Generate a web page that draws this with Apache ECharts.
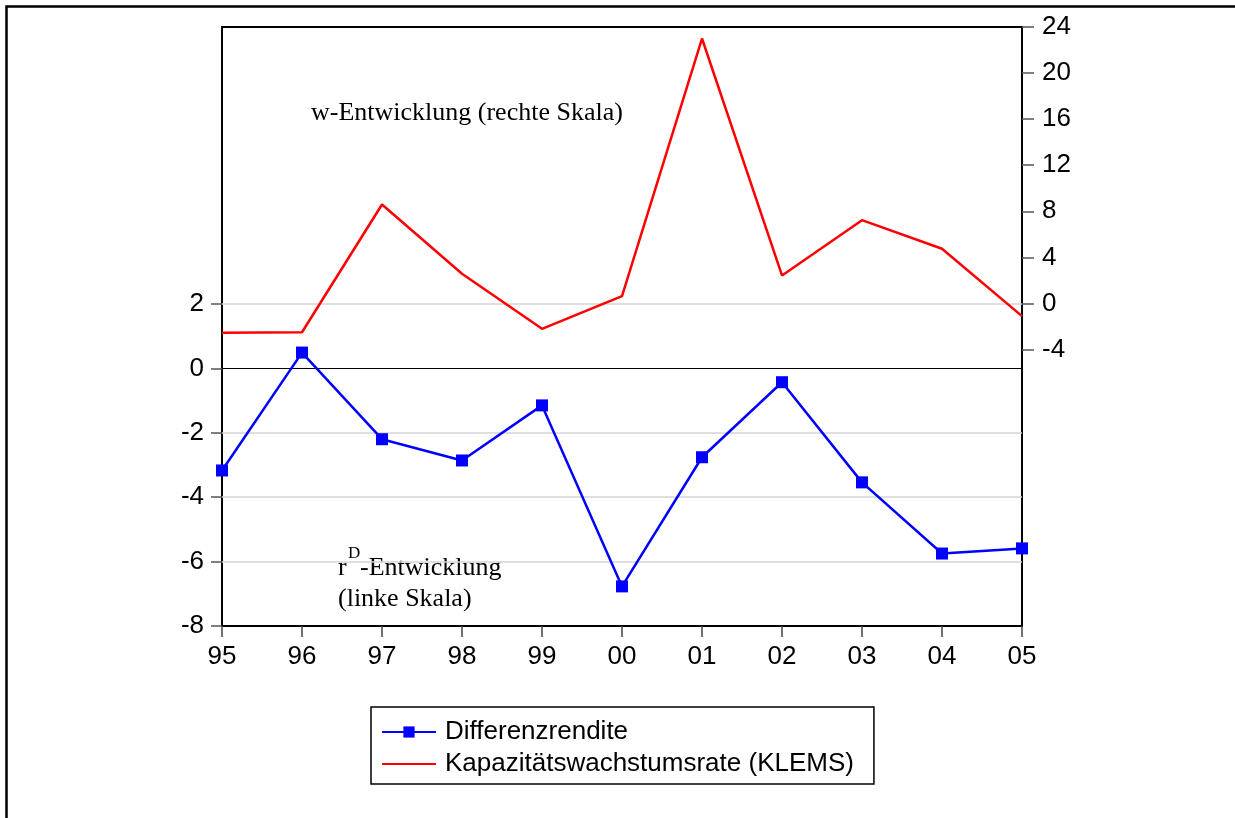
<!DOCTYPE html>
<html>
<head>
<meta charset="utf-8">
<script src="https://cdn.jsdelivr.net/npm/echarts@6/dist/echarts.min.js"></script>
<style>
html,body{margin:0;padding:0;background:#fff;}
#chart{width:1235px;height:818px;}
</style>
</head>
<body>
<div id="chart"></div>
<script>
const categories = ['95','96','97','98','99','00','01','02','03','04','05'];
const differenzrendite = [-3.17, 0.49, -2.2, -2.86, -1.15, -6.77, -2.76, -0.43, -3.54, -5.75, -5.59];
const kapazitaetswachstum = [-2.55, -2.5, 8.59, 2.58, -2.2, 0.63, 23.0, 2.43, 7.23, 4.75, -1.1];
const leftTickLabels = [-8, -6, -4, -2, 0, 2];
const rightTickLabels = [-4, 0, 4, 8, 12, 16, 20, 24];
const leftGridValues = [-6, -4, -2, 2];

const sans = 'Liberation Sans, Arial, sans-serif';
const serif = 'Liberation Serif, Times New Roman, serif';

const chart = echarts.init(document.getElementById('chart'), null, {renderer: 'canvas'});

const gridMarks = leftGridValues.map(v => ({yAxis: v, lineStyle: {color: '#d4d4d4', width: 1.5, type: 'solid'}}));
gridMarks.push({yAxis: 0, lineStyle: {color: '#000', width: 1.2, type: 'solid'}});

chart.setOption({
  animation: false,
  backgroundColor: '#fff',
  grid: {left: 222, right: 213, top: 27, bottom: 192, show: true, borderColor: '#000', borderWidth: 2, backgroundColor: 'transparent'},
  legend: {
    orient: 'vertical',
    left: 371, top: 707,
    padding: [12, 20, 7, 10],
    itemGap: 6,
    itemWidth: 54, itemHeight: 14,
    borderColor: '#000', borderWidth: 1.5,
    textStyle: {fontFamily: sans, fontSize: 26, color: '#000', padding: [0, 0, 0, 4]},
    data: [
      {name: 'Differenzrendite'},
      {name: 'Kapazitätswachstumsrate (KLEMS)', itemStyle: {opacity: 0}}
    ]
  },
  xAxis: {
    type: 'category',
    data: categories,
    boundaryGap: false,
    axisLine: {show: true, onZero: false, lineStyle: {color: '#000', width: 2}},
    axisTick: {show: true, length: 11, lineStyle: {color: '#444', width: 1.5}},
    axisLabel: {fontFamily: sans, fontSize: 26, color: '#000', margin: 18},
    splitLine: {show: false}
  },
  yAxis: [
    {
      type: 'value', position: 'left',
      min: -8, max: 10.6, interval: 2,
      axisLine: {show: true, onZero: false, lineStyle: {color: '#000', width: 2}},
      axisTick: {show: true, length: 11, customValues: leftTickLabels, lineStyle: {color: '#555', width: 1.5}},
      axisLabel: {fontFamily: sans, fontSize: 26, color: '#000', margin: 18, customValues: leftTickLabels},
      splitLine: {show: false}
    },
    {
      type: 'value', position: 'right',
      min: -28, max: 24, interval: 4,
      axisLine: {show: true, onZero: false, lineStyle: {color: '#000', width: 2}},
      axisTick: {show: true, length: 12, customValues: rightTickLabels, lineStyle: {color: '#555', width: 1.5}},
      axisLabel: {fontFamily: sans, fontSize: 26, color: '#000', margin: 20, customValues: rightTickLabels},
      splitLine: {show: false}
    }
  ],
  series: [
    {
      name: 'Kapazitätswachstumsrate (KLEMS)',
      type: 'line',
      yAxisIndex: 1,
      data: kapazitaetswachstum,
      showSymbol: false,
      symbol: 'none',
      lineStyle: {color: '#ff0000', width: 2.5},
      itemStyle: {color: '#ff0000'},
      z: 3
    },
    {
      name: 'Differenzrendite',
      type: 'line',
      yAxisIndex: 0,
      data: differenzrendite,
      symbol: 'rect',
      symbolSize: 12,
      lineStyle: {color: '#0000ff', width: 2.5},
      itemStyle: {color: '#0000ff'},
      z: 4,
      markLine: {
        silent: true,
        symbol: ['none', 'none'],
        label: {show: false},
        z: 1,
        data: gridMarks
      }
    }
  ],
  graphic: [
    {type: 'polyline', shape: {points: [[6.5, 818], [6.5, 6.5], [1235, 6.5]]}, style: {stroke: '#000', lineWidth: 2.5, fill: null}, silent: true},
    {type: 'text', left: 311, top: 100, style: {text: 'w-Entwicklung (rechte Skala)', font: '26px ' + serif, fill: '#000'}},
    {type: 'text', left: 338, top: 555, style: {text: 'r', font: '26px ' + serif, fill: '#000'}},
    {type: 'text', left: 348, top: 545, style: {text: 'D', font: '17px ' + serif, fill: '#000'}},
    {type: 'text', left: 360, top: 555, style: {text: '-Entwicklung', font: '26px ' + serif, fill: '#000'}},
    {type: 'text', left: 338, top: 586, style: {text: '(linke Skala)', font: '26px ' + serif, fill: '#000'}}
  ]
});
</script>
</body>
</html>
